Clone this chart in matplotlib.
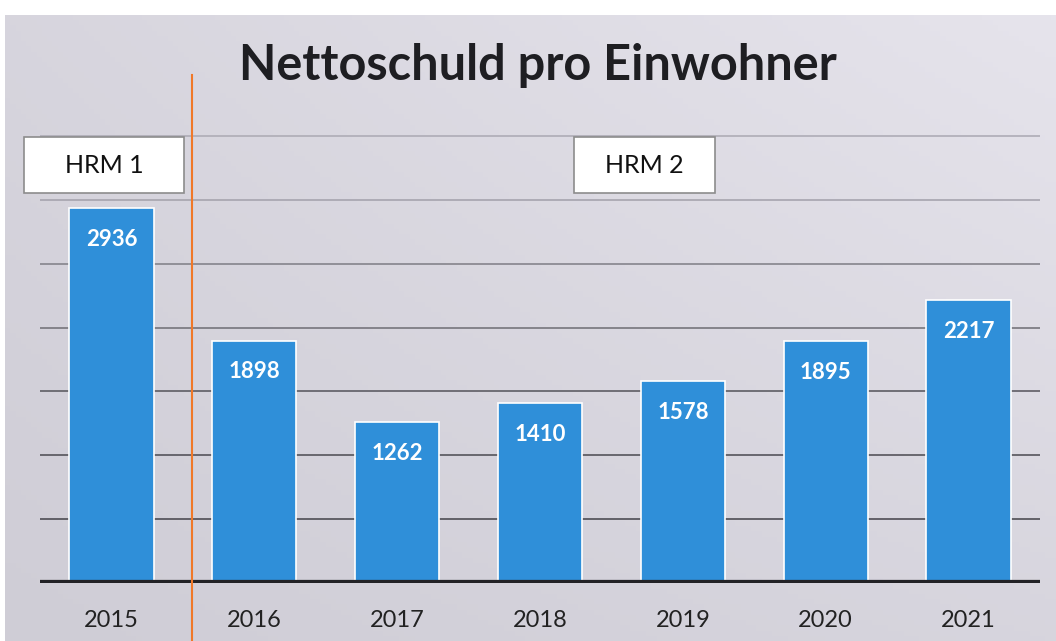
import matplotlib
matplotlib.use("Agg")
import matplotlib.pyplot as plt
import numpy as np
from matplotlib.patches import Rectangle

years = ["2015", "2016", "2017", "2018", "2019", "2020", "2021"]
values = [2936, 1898, 1262, 1410, 1578, 1895, 2217]
grid_levels = [500, 1000, 1500, 2000, 2500, 3000, 3500]
title = "Nettoschuld pro Einwohner"
era_labels = ["HRM 1", "HRM 2"]

FONT = ["Lato", "DejaVu Sans"]
BLUE = "#2f8fd9"
# gescannte Vorlage: obere Gitterlinien blasser
grid_colors = ["#4e4d54", "#55545b", "#5e5d64", "#76757c", "#85848c",
               "#a6a4ae", "#aeacb6"]

fig = plt.figure(figsize=(10.56, 6.41), dpi=100)
fig.patch.set_facecolor("white")

# grauer Hintergrund mit leichtem Verlauf
bg = fig.add_axes([5 / 1056, 0, 1 - 5 / 1056, 1 - 15 / 641], zorder=-5)
gx = np.linspace(0, 1, 200)
gy = np.linspace(0, 1, 120)
GX, GY = np.meshgrid(gx, gy)
shade = 0.35 * GX + 0.35 * GY + 0.3 * GX * GY
c0 = np.array([0xcf, 0xcd, 0xd6]) / 255
c1 = np.array([0xe6, 0xe4, 0xec]) / 255
img = c0 + (c1 - c0) * np.clip(shade, 0, 1)[..., None]
bg.imshow(img, origin="lower", aspect="auto", extent=[0, 1, 0, 1])
bg.set_axis_off()

ax = fig.add_axes([40 / 1056, 1 - 583 / 641, 1000 / 1056, 568 / 641])
ax.set_facecolor("none")
ax.set_xlim(-0.5, 6.5)
ax.set_ylim(0, 4448)
for s in ax.spines.values():
    s.set_visible(False)
ax.set_yticks([])
ax.set_xticks([])

x = list(range(len(years)))

for g, gc in zip(grid_levels, grid_colors):
    ax.axhline(g, color=gc, linewidth=1.2, zorder=1)
ax.axhline(0, color="#222226", linewidth=4.5, zorder=4)

bars = ax.bar(x, values, width=0.59, color=BLUE, edgecolor="white",
              linewidth=1.2, zorder=3)

for xi, v in zip(x, values):
    ax.text(xi, v - 245, str(v), ha="center", va="center", color="white",
            fontsize=16, fontweight="bold", family=FONT, zorder=5)
    ax.text(xi, -290, years[xi], ha="center", va="center", color="#222222",
            fontsize=17, family=FONT, zorder=5, clip_on=False)

# Trennlinie HRM 1 / HRM 2
ax.plot([0.567, 0.567], [-460, 3980], color="#f07828", linewidth=1.5,
        clip_on=False, zorder=6)

# Beschriftungskaesten
for (x0, x1), lab in zip([(-0.615, 0.51), (3.238, 4.224)], era_labels):
    ax.add_patch(Rectangle((x0, 3054), x1 - x0, 439, facecolor="white",
                           edgecolor="#8c8c8c", linewidth=1.2, zorder=5,
                           clip_on=False))
    ax.text((x0 + x1) / 2, 3273, lab, ha="center", va="center",
            fontsize=18, family=FONT, color="#111111", zorder=6)

fig.text(538 / 1056, 1 - 65 / 641, title, ha="center", va="center",
         fontsize=35, fontweight="bold", family=FONT, color="#1e1e22")

fig.savefig("out.png", dpi=100)
